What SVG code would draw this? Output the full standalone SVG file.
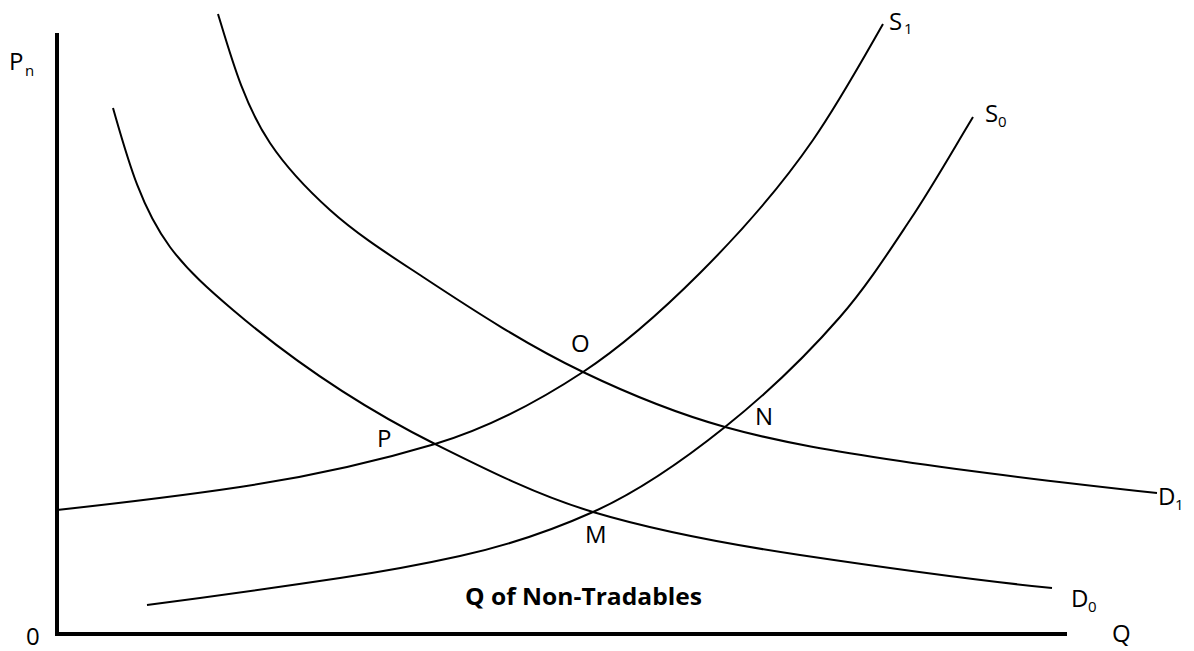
<svg xmlns="http://www.w3.org/2000/svg" width="1194" height="651" viewBox="0 0 1194 651">
<style>
.ax{stroke:#000;stroke-width:4;fill:none}
.cv{stroke:#000;stroke-width:2;fill:none;stroke-linecap:butt}
.lb{font-family:"Open Sans","Liberation Sans",sans-serif;font-size:24px;fill:#000}
.sb{font-size:15px}
.tt{font-family:"Open Sans","Liberation Sans",sans-serif;font-size:23px;font-weight:bold;fill:#000}
</style>
<rect width="1194" height="651" fill="#fff"/>
<g id="axes">
<line class="ax" x1="57" y1="33" x2="57" y2="636"/>
<line class="ax" x1="55" y1="634" x2="1067" y2="634"/>
</g>
<g id="curves">
<path id="D1" class="cv" d="M218,14 C231.5,58.4 244.2,104.4 270,143 C286.7,168 307.7,189.9 330,210 C358.4,235.6 391.1,256 423,277 C474.8,311.2 527.1,345.2 583,372 C628.8,394 676.1,413.3 725,427 C782.2,443 841.3,452.2 900,461 C985.4,473.8 1071.2,483.6 1157,493"/>
<path id="D0" class="cv" d="M113,108 C126.9,156.1 140.2,206.7 170,247 C187.7,270.9 210.4,290.8 233,310 C294.6,362.4 362.8,407.9 435,444 C486.2,469.6 538.1,495.6 593,512 C660.5,532.2 730.3,544.6 800,555 C883.8,567.5 967.7,579.6 1052,588"/>
<path id="S1" class="cv" d="M57,510 C118.1,503.3 179.2,496.1 240,487 C305.9,477.1 371.2,463.1 435,444 C487.6,428.2 537.2,402.2 583,372 C625.7,343.8 663.9,309.1 700,273 C741.1,231.9 779.9,187.9 813,140 C838.7,102.8 860.6,63.2 883,24"/>
<path id="S0" class="cv" d="M147,605 C211.5,596.6 275.7,587.6 340,578 C380.3,572 420.2,564.8 460,556 C505.6,546 550.4,531.1 593,512 C640.7,490.6 684.2,459.7 725,427 C766.4,393.9 805.2,357 840,317 C866.2,286.9 887.9,253.2 910,220 C932.3,186.6 952.2,151.4 973,117"/>
</g>
<g id="labels">
<text class="lb" x="9" y="70">P<tspan class="sb" x="25" y="76">n</tspan></text>
<text class="lb" x="889" y="30">S<tspan class="sb" x="904" y="34">1</tspan></text>
<text class="lb" x="985" y="122">S<tspan class="sb" x="998" y="127">0</tspan></text>
<text class="lb" x="1158" y="505">D<tspan class="sb" x="1175" y="510">1</tspan></text>
<text class="lb" x="1071" y="607">D<tspan class="sb" x="1088" y="612">0</tspan></text>
<text class="lb" x="1112" y="642">Q</text>
<text class="lb" x="26" y="645">0</text>
<text class="lb" x="571" y="352">O</text>
<text class="lb" x="377" y="447">P</text>
<text class="lb" x="585" y="543">M</text>
<text class="lb" x="755" y="425">N</text>
<text class="tt" x="465" y="605" textLength="237" lengthAdjust="spacingAndGlyphs">Q of Non-Tradables</text>
</g>
</svg>
